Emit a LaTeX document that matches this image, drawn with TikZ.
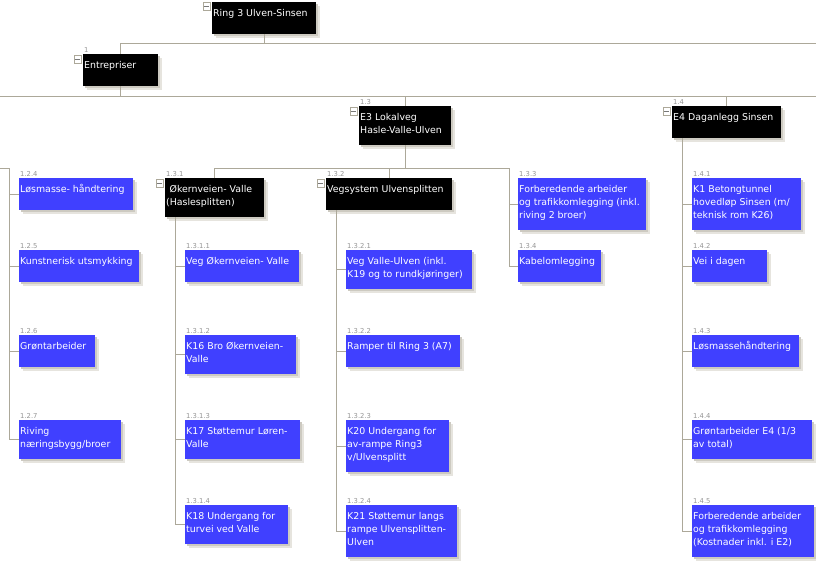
\documentclass[tikz,border=0pt]{standalone}
\usepackage{fontspec}
\setmainfont{DejaVu Sans}
\definecolor{wbsblue}{RGB}{64,64,255}
\definecolor{conncol}{RGB}{172,168,153}
\definecolor{numcol}{RGB}{150,150,150}
\definecolor{minuscol}{RGB}{120,120,120}
\definecolor{shA}{RGB}{205,202,193}
\definecolor{shB}{RGB}{230,228,222}
\tikzset{
  conn/.style={draw=conncol, line width=1pt},
  boxshape/.style={rectangle, inner sep=0pt, outer sep=0pt, anchor=north west},
  boxtxt/.style={anchor=north west, inner sep=0pt, text=white, align=left,
                 font=\fontsize{9.4}{13}\selectfont},
  numtxt/.style={anchor=base west, inner sep=0pt, text=numcol,
                 font=\fontsize{6.8}{7}\selectfont},
  minusbox/.style={draw=conncol, fill=white, line width=0.8pt, rectangle,
                   minimum size=7.5pt, inner sep=0pt, anchor=north west},
  minusline/.style={draw=minuscol, line width=0.8pt},
}
% #1 name, #2 x, #3 y, #4 width, #5 height, #6 fill, #7 number, #8 text
\newcommand\wbsbox[8]{%
  \fill[shB] (#2+4,#3+4) rectangle ++(#4,#5);
  \fill[shA] (#2+2,#3+2) rectangle ++(#4,#5);
  \node[boxshape, fill=#6, minimum width=#4pt, minimum height=#5pt] (#1) at (#2,#3) {};
  \node[boxtxt] (#1-t) at (#2+1,#3+4) {\rule{0pt}{10pt}#8};
  \node[numtxt] (#1-n) at (#2+1,#3-2) {#7};
}
% #1 name, #2 x, #3 y of the box it belongs to
\newcommand\wbsminus[3]{%
  \node[minusbox] (#1) at (#2-9.5,#3+1) {};
  \draw[minusline] ([xshift=1.8pt]#1.west) -- ([xshift=-1.8pt]#1.east);
}
\begin{document}
\begin{tikzpicture}[x=1pt,y=-1pt]
\useasboundingbox (0,0) rectangle (816,571);
\fill[white] (0,0) rectangle (816,571);

% root
\fill[shB] (216,6) rectangle ++(104,32);
\fill[shA] (214,4) rectangle ++(104,32);
\node[boxshape, fill=black, minimum width=104pt, minimum height=32pt] (ring) at (212,2) {};
\node[boxtxt] (ring-t) at (213,6) {\rule{0pt}{10pt}Ring 3 Ulven-Sinsen};
\wbsminus{ringm}{212}{1}

% black parents
\wbsbox{ent}{83}{54}{75}{32}{black}{1}{Entrepriser}
\wbsminus{entm}{83}{54}
\wbsbox{e3}{359}{106}{92}{39}{black}{1.3}{E3 Lokalveg\\Hasle-Valle-Ulven}
\wbsminus{e3m}{359}{106}
\wbsbox{e4}{672}{106}{109}{32}{black}{1.4}{E4 Daganlegg Sinsen}
\wbsminus{e4m}{672}{106}
\wbsbox{okv}{165}{178}{99}{39}{black}{1.3.1}{\hspace{3.5pt}Økernveien- Valle\\(Haslesplitten)}
\wbsminus{okvm}{165}{178}
\wbsbox{veg}{326}{178}{126}{32}{black}{1.3.2}{Vegsystem Ulvensplitten}
\wbsminus{vegm}{326}{178}

% 1.2.x (partial column)
\wbsbox{b124}{19}{178}{114}{32}{wbsblue}{1.2.4}{Løsmasse- håndtering}
\wbsbox{b125}{19}{250}{120}{32}{wbsblue}{1.2.5}{Kunstnerisk utsmykking}
\wbsbox{b126}{19}{335}{76}{32}{wbsblue}{1.2.6}{Grøntarbeider}
\wbsbox{b127}{19}{420}{102}{39}{wbsblue}{1.2.7}{Riving\\næringsbygg/broer}

% 1.3.1.x
\wbsbox{b1311}{185}{250}{114}{32}{wbsblue}{1.3.1.1}{Veg Økernveien- Valle}
\wbsbox{b1312}{185}{335}{111}{39}{wbsblue}{1.3.1.2}{K16 Bro Økernveien-\\Valle}
\wbsbox{b1313}{185}{420}{115}{39}{wbsblue}{1.3.1.3}{K17 Støttemur Løren-\\Valle}
\wbsbox{b1314}{185}{505}{103}{39}{wbsblue}{1.3.1.4}{K18 Undergang for\\turvei ved Valle}

% 1.3.2.x
\wbsbox{b1321}{346}{250}{126}{39}{wbsblue}{1.3.2.1}{Veg Valle-Ulven (inkl.\\K19 og to rundkjøringer)}
\wbsbox{b1322}{346}{335}{114}{32}{wbsblue}{1.3.2.2}{Ramper til Ring 3 (A7)}
\wbsbox{b1323}{346}{420}{103}{52}{wbsblue}{1.3.2.3}{K20 Undergang for\\av-rampe Ring3\\v/Ulvensplitt}
\wbsbox{b1324}{346}{505}{111}{52}{wbsblue}{1.3.2.4}{K21 Støttemur langs\\rampe Ulvensplitten-\\Ulven}

% 1.3.3, 1.3.4
\wbsbox{b133}{518}{178}{128}{52}{wbsblue}{1.3.3}{Forberedende arbeider\\og trafikkomlegging (inkl.\\riving 2 broer)}
\wbsbox{b134}{518}{250}{83}{32}{wbsblue}{1.3.4}{Kabelomlegging}

% 1.4.x
\wbsbox{b141}{692}{178}{109}{52}{wbsblue}{1.4.1}{K1 Betongtunnel\\hovedløp Sinsen (m/\\teknisk rom K26)}
\wbsbox{b142}{692}{250}{75}{32}{wbsblue}{1.4.2}{Vei i dagen}
\wbsbox{b143}{692}{335}{107}{32}{wbsblue}{1.4.3}{Løsmassehåndtering}
\wbsbox{b144}{692}{420}{120}{39}{wbsblue}{1.4.4}{Grøntarbeider E4 (1/3\\av total)}
\wbsbox{b145}{692}{505}{122}{52}{wbsblue}{1.4.5}{Forberedende arbeider\\og trafikkomlegging\\(Kostnader inkl. i E2)}

% ---------- connectors ----------
\coordinate (h0R) at (816,43);
\coordinate (h1L) at (0,96);
\coordinate (h1R) at (816,96);
\draw[conn] (ring.south) -- (ring.south |- h0R);
\draw[conn] (ent.north) -- (ent.north |- h0R) -- (h0R);
\draw[conn] (ent.south) -- (ent.south |- h1L);
\draw[conn] (h1L) -- (h1R);
\draw[conn] (e3.north) -- (e3.north |- h1L);
\draw[conn] (e4.north) -- (e4.north |- h1L);

\coordinate (j13) at (509,168);
\draw[conn] (e3.south) -- (e3.south |- j13);
\draw[conn] (okv.north) -- (okv.north |- j13) -- (j13) |- (b134.west);
\draw[conn] (veg.north) -- (veg.north |- j13);
\draw[conn] (j13 |- b133.west) -- (b133.west);

\coordinate (l12) at (0,168);
\coordinate (v12) at (9,168);
\draw[conn] (l12) -- (v12) |- (b127.west);
\foreach \c in {b124,b125,b126} \draw[conn] (v12 |- \c.west) -- (\c.west);

\coordinate (okvd) at ([xshift=10pt]okv.south west);
\draw[conn] (okvd) |- (b1314.west);
\foreach \c in {b1311,b1312,b1313} \draw[conn] (okvd |- \c.west) -- (\c.west);

\coordinate (vegd) at ([xshift=10pt]veg.south west);
\draw[conn] (vegd) |- (b1324.west);
\foreach \c in {b1321,b1322,b1323} \draw[conn] (vegd |- \c.west) -- (\c.west);

\coordinate (e4d) at ([xshift=10pt]e4.south west);
\draw[conn] (e4d) |- (b145.west);
\foreach \c in {b141,b142,b143,b144} \draw[conn] (e4d |- \c.west) -- (\c.west);
\end{tikzpicture}
\end{document}
